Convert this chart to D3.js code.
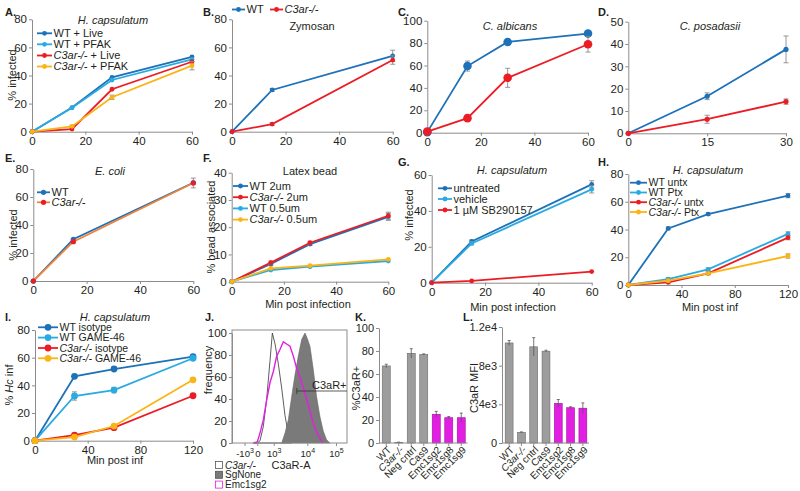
<!DOCTYPE html>
<html>
<head>
<meta charset="utf-8">
<script src="https://cdn.jsdelivr.net/npm/d3@7"></script>
<style>
body { margin: 0; background: #fff; }
svg text { font-family: "Liberation Sans", Arial, Helvetica, sans-serif; fill: #231f20; }
</style>
</head>
<body>
<svg id="fig" width="800" height="491"></svg>
<script>
// Colours used across panels
var C_WT = "#1d71b8", C_WT2 = "#29abe2", C_KO = "#ec1c24", C_KO2 = "#fbb416";
var C_BAR = "#9d9d9d", C_MAG = "#e21ee2";

// ---- A. H. capsulatum, live vs PFAK
var timesA = [0, 15, 30, 60];
var aWtLive = [0, 17.2, 38.7, 53.3];
var aWtPfak = [0, 17, 36.8, 51.5];
var aKoLive = [0, 1.9, 30.2, 49.8];
var aKoPfak = [0, 3.8, 24.5, 47];
var aErrKoPfak = [0, 0.8, 1.5, 3];
var aNames = ["WT + Live", "WT + PFAK", "C3ar-/- + Live", "C3ar-/- + PFAK"];

// ---- B. Zymosan
var timesB = [0, 15, 60];
var bWt = [0, 29.7, 54];
var bKo = [0, 5.4, 51];
var bErrWt = [0, 1, 4];
var bErrKo = [0, 1, 3];
var bNames = ["WT", "C3ar-/-"];

// ---- C. C. albicans
var timesC = [0, 15, 30, 60];
var cWt = [0.5, 59.5, 81, 88.5];
var cKo = [1, 13, 49, 79];
var cErrWt = [0, 4.5, 1.5, 2];
var cErrKo = [0, 1.5, 8.5, 7];

// ---- D. C. posadasii
var timesD = [0, 15, 30];
var dWt = [0, 16.6, 37.6];
var dKo = [0, 6.3, 14.2];
var dErrWt = [0, 1.5, 6];
var dErrKo = [0, 1.8, 1.2];

// ---- E. E. coli
var timesE = [0, 15, 60];
var eWt = [0, 29.8, 70.2];
var eKo = [0, 28.1, 70];
var eErr = [0, 1, 3.5];
var eNames = ["WT", "C3ar-/-"];

// ---- F. Latex beads
var timesF = [0, 15, 30, 60];
var fWt2 = [0, 6.5, 13.8, 23.8];
var fKo2 = [0, 7, 14.3, 24.2];
var fWt05 = [0, 4.3, 5.5, 7.6];
var fKo05 = [0, 4.9, 5.9, 8.2];
var fErr2 = [0, 0.6, 0.5, 1.3];
var fNames = ["WT 2um", "C3ar-/- 2um", "WT 0.5um", "C3ar-/- 0.5um"];

// ---- G. SB290157
var timesG = [0, 15, 60];
var gUntreated = [0, 23, 54.8];
var gVehicle = [0, 21.9, 52];
var gSb = [0, 1, 6.2];
var gErr = [0, 0.8, 2];
var gNames = ["untreated", "vehicle", "1 \u00b5M SB290157"];

// ---- H. Pertussis toxin
var timesH = [0, 30, 60, 120];
var hWtUntx = [0, 40.8, 51.1, 64.4];
var hWtPtx = [0, 4.3, 11.3, 36.8];
var hKoUntx = [0, 1.9, 8.4, 34.1];
var hKoPtx = [0, 3.1, 8.4, 20.9];
var hErr = [0, 1, 1, 1.5];
var hNames = ["WT untx", "WT Ptx", "C3ar-/- untx", "C3ar-/- Ptx"];

// ---- I. GAME-46
var timesI = [0, 30, 60, 120];
var iWtIso = [0, 46.5, 51.8, 60.7];
var iWtGame = [0, 32.3, 36.6, 59.6];
var iKoIso = [0, 4.1, 9.4, 32.5];
var iKoGame = [0, 2.6, 10.6, 44];
var iErrWtGame = [0, 3, 2, 1];
var iNames = ["WT isotype", "WT GAME-46", "C3ar-/- isotype", "C3ar-/- GAME-46"];

// ---- J. flow histogram (C3aR-A value, frequency)
var jKoX = [-100, 0, 59, 167, 330, 578, 822, 1104, 1402, 1778, 2244, 2816, 3528];
var jKoY = [0, 0, 2, 15, 40, 75, 100, 90, 72, 50, 25, 8, 0];
var jNoneX = [1778, 2244, 2816, 3528, 4422, 5514, 6885, 8580, 10000, 12390, 16185, 21180, 27660, 36000, 46950, 61350];
var jNoneY = [0, 9, 21, 42, 62, 79, 94, 100, 95, 88, 67, 42, 24, 11, 3, 0];
var jEmcX = [-146, 0, 59, 167, 330, 578, 952, 1244, 1580, 1994, 2511, 3155, 3953, 4935, 6165, 7680, 9555, 12390, 16185, 21180, 27660, 36000];
var jEmcY = [0, 1, 9, 21, 39, 55, 65, 79, 85, 92, 90, 88, 79, 68, 60, 50, 40, 29, 18, 10, 4, 0];
var jTickVals = [-1000, 0, 1000, 10000, 100000];
var jTickBase = ["-10", "0", "10", "10", "10"];
var jTickSup = ["3", "", "3", "4", "5"];
var jNames = ["C3ar-/-", "SgNone", "Emc1sg2"];

// ---- K / L. bar charts
var klCats = ["WT", "C3ar-/-", "Neg cntrl", "Cas9", "Emc1sg2", "Emc1sg8", "Emc1sg9"];
var kPct = [67, 0.6, 78, 77, 25, 22, 22];
var kErr = [1.5, 0.2, 4, 0.5, 2.5, 1, 4];
var lMfi = [10350, 1100, 9950, 9500, 4100, 3650, 3600];
var lErr = [250, 50, 950, 100, 400, 100, 550];
var klColors = [C_BAR, C_BAR, C_BAR, C_BAR, C_MAG, C_MAG, C_MAG];

var svg = d3.select("#fig");

function richText(sel, str) {
    str.split(/(C3ar-\/-|Hc)/).forEach(function(p) {
        if (!p) return;
        sel.append("tspan")
            .attr("font-style", (p === "C3ar-/-" || p === "Hc") ? "italic" : null)
            .text(p);
    });
    return sel;
}

function styleAxis(ax, fs) {
    ax.selectAll(".domain, .tick line").attr("stroke", "#8c8c8c").attr("stroke-width", 1);
    ax.selectAll(".tick text").attr("font-size", fs || 11.5).attr("fill", "#231f20")
        .style("font-family", "'Liberation Sans', Arial, sans-serif");
    return ax;
}

function panelLabel(txt, x, y) {
    svg.append("text").attr("x", x).attr("y", y).attr("font-size", 11)
        .attr("font-weight", "bold").text(txt);
}

function linePanel(cfg) {
    var x = d3.scaleLinear().domain(cfg.xDom).range(cfg.xRange);
    var y = d3.scaleLinear().domain(cfg.yDom).range(cfg.yRange);
    var g = svg.append("g");

    styleAxis(g.append("g").attr("transform", "translate(" + cfg.xRange[0] + ",0)")
        .call(d3.axisLeft(y).tickValues(cfg.yTicks).tickSize(3).tickSizeOuter(0).tickPadding(2)));
    styleAxis(g.append("g").attr("transform", "translate(0," + cfg.yRange[0] + ")")
        .call(d3.axisBottom(x).tickValues(cfg.xTicks).tickSize(3).tickSizeOuter(0).tickPadding(2)));

    var line = d3.line().x(function(d) { return x(d.t); }).y(function(d) { return y(d.v); });

    cfg.series.forEach(function(s) {
        var pts = cfg.xs.map(function(t, i) {
            return { t: t, v: s.vals[i], e: s.err ? s.err[i] : 0 };
        });
        g.append("path").datum(pts).attr("d", line).attr("fill", "none")
            .attr("stroke", s.line || s.color).attr("stroke-width", 1.8);
        var eb = g.append("g").attr("stroke", "#8a8a8a").attr("stroke-width", 0.9);
        pts.filter(function(d) { return d.e > 0; }).forEach(function(d) {
            var cx = x(d.t), y1 = y(d.v + d.e), y2 = y(d.v - d.e);
            eb.append("line").attr("x1", cx).attr("x2", cx).attr("y1", y1).attr("y2", y2);
            eb.append("line").attr("x1", cx - 2.5).attr("x2", cx + 2.5).attr("y1", y1).attr("y2", y1);
            eb.append("line").attr("x1", cx - 2.5).attr("x2", cx + 2.5).attr("y1", y2).attr("y2", y2);
        });
        g.selectAll(null).data(pts).enter().append("circle")
            .attr("cx", function(d) { return x(d.t); })
            .attr("cy", function(d) { return y(d.v); })
            .attr("r", cfg.r).attr("fill", s.color);
    });

    if (cfg.title) {
        g.append("text").attr("x", cfg.title.x).attr("y", cfg.title.y)
            .attr("text-anchor", "middle").attr("font-size", 11)
            .attr("font-style", cfg.title.italic ? "italic" : null).text(cfg.title.text);
    }
    if (cfg.legend) {
        var L = cfg.legend;
        cfg.series.forEach(function(s, i) {
            var ly = L.ys[i], lx = L.xs ? L.xs[i] : L.x0;
            g.append("line").attr("x1", lx).attr("x2", lx + L.w).attr("y1", ly).attr("y2", ly)
                .attr("stroke", s.line || s.color).attr("stroke-width", 1.8);
            g.append("circle").attr("cx", lx + L.w / 2).attr("cy", ly).attr("r", cfg.r).attr("fill", s.color);
            richText(g.append("text").attr("x", lx + L.w + 1.5).attr("y", ly).attr("dy", "0.35em")
                .attr("font-size", L.fs || 11), s.name);
        });
    }
    if (cfg.yLabel) {
        richText(g.append("text").attr("transform", "translate(" + cfg.yLabel.x + "," + cfg.yLabel.y + ") rotate(-90)")
            .attr("text-anchor", "middle").attr("dy", "0.35em").attr("font-size", 11), cfg.yLabel.text);
    }
    if (cfg.xLabel) {
        g.append("text").attr("x", cfg.xLabel.x).attr("y", cfg.xLabel.y).attr("text-anchor", "middle")
            .attr("dy", "0.35em").attr("font-size", 11).text(cfg.xLabel.text);
    }
}

// ---------------- Row 1
panelLabel("A.", 5, 16);
linePanel({
    xs: timesA, xDom: [0, 60], xRange: [32, 192], xTicks: [0, 20, 40, 60],
    yDom: [0, 80], yRange: [131.7, 19.3], yTicks: [0, 20, 40, 60, 80], r: 2.4,
    series: [
        { name: aNames[0], vals: aWtLive, color: C_WT },
        { name: aNames[1], vals: aWtPfak, color: C_WT2 },
        { name: aNames[2], vals: aKoLive, color: C_KO },
        { name: aNames[3], vals: aKoPfak, color: C_KO2, err: aErrKoPfak }
    ],
    title: { text: "H. capsulatum", italic: true, x: 113, y: 24 },
    legend: { x0: 37, w: 15, ys: [33.3, 44.3, 55.5, 66.5] },
    yLabel: { text: "% infected", x: 12.5, y: 75 }
});

panelLabel("B.", 203, 16);
linePanel({
    xs: timesB, xDom: [0, 60], xRange: [232, 392.7], xTicks: [0, 20, 40, 60],
    yDom: [0, 80], yRange: [131.7, 19.3], yTicks: [0, 20, 40, 60, 80], r: 2.4,
    series: [
        { name: bNames[0], vals: bWt, color: C_WT, err: bErrWt },
        { name: bNames[1], vals: bKo, color: C_KO, err: bErrKo }
    ],
    title: { text: "Zymosan", italic: false, x: 312, y: 30 },
    legend: { xs: [232, 270], w: 13, ys: [9.5, 9.5] }
});

panelLabel("C.", 398, 16);
linePanel({
    xs: timesC, xDom: [0, 60], xRange: [427.3, 588], xTicks: [0, 20, 40, 60],
    yDom: [0, 100], yRange: [132.7, 20.7], yTicks: [0, 20, 40, 60, 80, 100], r: 4.3,
    series: [
        { name: "WT", vals: cWt, color: C_WT, err: cErrWt },
        { name: "C3ar-/-", vals: cKo, color: C_KO, err: cErrKo }
    ],
    title: { text: "C. albicans", italic: true, x: 510, y: 30 }
});

panelLabel("D.", 598, 16);
linePanel({
    xs: timesD, xDom: [0, 30], xRange: [628.3, 786], xTicks: [0, 15, 30],
    yDom: [0, 50], yRange: [133.3, 21.7], yTicks: [0, 10, 20, 30, 40, 50], r: 2.6,
    series: [
        { name: "WT", vals: dWt, color: C_WT, err: dErrWt },
        { name: "C3ar-/-", vals: dKo, color: C_KO, err: dErrKo }
    ],
    title: { text: "C. posadasii", italic: true, x: 710, y: 30 }
});

// ---------------- Row 2
panelLabel("E.", 5, 162);
linePanel({
    xs: timesE, xDom: [0, 60], xRange: [33.3, 193.3], xTicks: [0, 20, 40, 60],
    yDom: [0, 80], yRange: [281, 169], yTicks: [0, 20, 40, 60, 80], r: 2.6,
    series: [
        { name: eNames[0], vals: eWt, color: C_WT },
        { name: eNames[1], vals: eKo, color: C_KO, line: "#f3833a", err: eErr }
    ],
    title: { text: "E. coli", italic: true, x: 110, y: 175 },
    legend: { x0: 37, w: 13, ys: [192.3, 202.3] },
    yLabel: { text: "% infected", x: 13, y: 235 }
});

panelLabel("F.", 203, 162);
linePanel({
    xs: timesF, xDom: [0, 60], xRange: [231.7, 388.3], xTicks: [0, 20, 40, 60],
    yDom: [0, 40], yRange: [281.7, 172.7], yTicks: [0, 10, 20, 30, 40], r: 2.4,
    series: [
        { name: fNames[0], vals: fWt2, color: C_WT, err: fErr2 },
        { name: fNames[1], vals: fKo2, color: C_KO, err: fErr2 },
        { name: fNames[2], vals: fWt05, color: C_WT2 },
        { name: fNames[3], vals: fKo05, color: C_KO2 }
    ],
    title: { text: "Latex bead", italic: false, x: 310, y: 175 },
    legend: { x0: 233, w: 15, ys: [186, 197.2, 208.4, 219.6] },
    yLabel: { text: "% bead associated", x: 211, y: 227 },
    xLabel: { text: "Min post infection", x: 308, y: 304 }
});

panelLabel("G.", 398, 166);
linePanel({
    xs: timesG, xDom: [0, 60], xRange: [431.7, 591.7], xTicks: [0, 20, 40, 60],
    yDom: [0, 60], yRange: [282.7, 175], yTicks: [0, 20, 40, 60], r: 2.4,
    series: [
        { name: gNames[0], vals: gUntreated, color: C_WT, err: gErr },
        { name: gNames[1], vals: gVehicle, color: C_WT2, err: gErr },
        { name: gNames[2], vals: gSb, color: C_KO }
    ],
    title: { text: "H. capsulatum", italic: true, x: 512, y: 174 },
    legend: { x0: 438, w: 14, ys: [188.3, 199, 210] },
    yLabel: { text: "% infected", x: 409, y: 215 },
    xLabel: { text: "Min post infection", x: 513, y: 307 }
});

panelLabel("H.", 598, 166);
linePanel({
    xs: timesH, xDom: [0, 120], xRange: [628.3, 788], xTicks: [0, 40, 80, 120],
    yDom: [0, 80], yRange: [285, 174], yTicks: [0, 20, 40, 60, 80], r: 2.4,
    series: [
        { name: hNames[0], vals: hWtUntx, color: C_WT, err: hErr },
        { name: hNames[1], vals: hWtPtx, color: C_WT2, err: hErr },
        { name: hNames[2], vals: hKoUntx, color: C_KO, err: hErr },
        { name: hNames[3], vals: hKoPtx, color: C_KO2, err: hErr }
    ],
    title: { text: "H. capsulatum", italic: true, x: 708, y: 174 },
    legend: { x0: 630, w: 17, ys: [182.7, 192.5, 202.2, 212], fs: 10.5 },
    xLabel: { text: "Min post inf", x: 710, y: 307 }
});

// ---------------- Row 3
panelLabel("I.", 5, 321);
linePanel({
    xs: timesI, xDom: [0, 120], xRange: [35, 193], xTicks: [0, 40, 80, 120],
    yDom: [0, 80], yRange: [440.7, 330], yTicks: [0, 20, 40, 60, 80], r: 3.4,
    series: [
        { name: iNames[0], vals: iWtIso, color: C_WT },
        { name: iNames[1], vals: iWtGame, color: C_WT2, err: iErrWtGame },
        { name: iNames[2], vals: iKoIso, color: C_KO },
        { name: iNames[3], vals: iKoGame, color: C_KO2 }
    ],
    title: { text: "H. capsulatum", italic: true, x: 115, y: 321 },
    legend: { x0: 38, w: 20, ys: [327.3, 337.6, 348, 358.3], fs: 10.5 },
    yLabel: { text: "% Hc inf", x: 9, y: 385 },
    xLabel: { text: "Min post inf", x: 115, y: 460 }
});

// J. flow histogram
function drawFlow() {
    var g = svg.append("g");
    var box = { l: 232, r: 347, t: 330, b: 443 };
    var tf = function(v) { return Math.sign(v) * Math.log10(1 + Math.abs(v) / 150); };
    var x = d3.scaleLinear().domain(jTickVals.map(tf)).range([244.5, 257.3, 273.7, 307.3, 336]);
    var y = d3.scaleLinear().domain([0, 100]).range([443, 333]);
    var px = function(v) { return x(tf(v)); };

    var pts = function(xs, ys) { return xs.map(function(v, i) { return [v, ys[i]]; }); };
    var area = d3.area().x(function(d) { return px(d[0]); }).y0(y(0)).y1(function(d) { return y(d[1]); });
    var line = d3.line().x(function(d) { return px(d[0]); }).y(function(d) { return y(d[1]); });

    g.append("path").datum(pts(jKoX, jKoY)).attr("d", area).attr("fill", "#fff")
        .attr("stroke", "#333").attr("stroke-width", 0.8);
    g.append("path").datum(pts(jNoneX, jNoneY)).attr("d", area).attr("fill", "#7a7a7a")
        .attr("stroke", "#666").attr("stroke-width", 0.6);
    g.append("path").datum(pts(jEmcX, jEmcY)).attr("d", line).attr("fill", "none")
        .attr("stroke", C_MAG).attr("stroke-width", 1.4);

    g.append("rect").attr("x", box.l).attr("y", box.t).attr("width", box.r - box.l)
        .attr("height", box.b - box.t).attr("fill", "none").attr("stroke", "#8c8c8c");

    styleAxis(g.append("g").attr("transform", "translate(" + box.l + ",0)")
        .call(d3.axisLeft(y).tickValues([0, 20, 40, 60, 80, 100]).tickSize(3).tickSizeOuter(0).tickPadding(2)));
    var xa = styleAxis(g.append("g").attr("transform", "translate(0," + box.b + ")")
        .call(d3.axisBottom(x).tickValues(jTickVals.map(tf)).tickSize(3).tickSizeOuter(0).tickPadding(4)), 9.5);
    xa.select(".domain").remove();
    xa.selectAll(".tick text").each(function(d, i) {
        var t = d3.select(this).text("");
        t.append("tspan").text(jTickBase[i]);
        if (jTickSup[i]) t.append("tspan").attr("dy", -4).attr("font-size", 7).text(jTickSup[i]);
    });

    // gate
    var gy = 391, gx = px(5000);
    g.append("line").attr("x1", gx).attr("x2", box.r).attr("y1", gy).attr("y2", gy)
        .attr("stroke", "#333").attr("stroke-width", 0.8);
    g.append("line").attr("x1", gx).attr("x2", gx).attr("y1", gy - 3).attr("y2", gy + 3)
        .attr("stroke", "#333").attr("stroke-width", 0.8);
    g.append("text").attr("x", 312).attr("y", 388.5).attr("font-size", 11).text("C3aR+");

    g.append("text").attr("x", 291).attr("y", 469).attr("text-anchor", "middle")
        .attr("font-size", 11).text("C3aR-A");
    g.append("text").attr("transform", "translate(208,370) rotate(-90)").attr("text-anchor", "middle")
        .attr("dy", "0.35em").attr("font-size", 11).text("frequency");

    var sw = [{ f: "#fff", s: "#555" }, { f: "#7a7a7a", s: "#555" }, { f: "#fff", s: C_MAG }];
    jNames.forEach(function(n, i) {
        var ly = 465 + i * 9.8;
        g.append("rect").attr("x", 215.5).attr("y", ly - 3.5).attr("width", 7).attr("height", 7)
            .attr("fill", sw[i].f).attr("stroke", sw[i].s).attr("stroke-width", 0.8);
        richText(g.append("text").attr("x", 225).attr("y", ly).attr("dy", "0.35em").attr("font-size", 10), n);
    });
}
panelLabel("J.", 205, 321);
drawFlow();

function barPanel(cfg) {
    var g = svg.append("g");
    var x = d3.scaleBand().domain(klCats).range(cfg.xRange).paddingInner(0.36).paddingOuter(0.18);
    var y = d3.scaleLinear().domain(cfg.yDom).range([443, cfg.yTop]);

    g.selectAll(null).data(cfg.vals).enter().append("rect")
        .attr("x", function(d, i) { return x(klCats[i]); })
        .attr("y", function(d) { return y(d); })
        .attr("width", x.bandwidth())
        .attr("height", function(d) { return 443 - y(d); })
        .attr("fill", function(d, i) { return klColors[i]; })
        .attr("stroke", function(d, i) { return i >= 4 ? "#a010a0" : "#6a6a6a"; })
        .attr("stroke-width", 0.6);

    var eb = g.append("g").attr("stroke", "#555").attr("stroke-width", 0.8);
    cfg.vals.forEach(function(v, i) {
        var cx = x(klCats[i]) + x.bandwidth() / 2, y1 = y(v + cfg.err[i]), y2 = y(v - cfg.err[i]);
        eb.append("line").attr("x1", cx).attr("x2", cx).attr("y1", y1).attr("y2", y2);
        eb.append("line").attr("x1", cx - 1.5).attr("x2", cx + 1.5).attr("y1", y1).attr("y2", y1);
    });

    styleAxis(g.append("g").attr("transform", "translate(" + cfg.axisX + ",0)")
        .call(d3.axisLeft(y).tickValues(cfg.yTicks).tickFormat(function(d, i) { return cfg.yTickLabels[i]; })
            .tickSize(3).tickSizeOuter(0).tickPadding(2)), 11);
    var xa = styleAxis(g.append("g").attr("transform", "translate(0,443)")
        .call(d3.axisBottom(x).tickSize(3).tickSizeOuter(0)));
    xa.select(".domain").attr("d", "M" + cfg.axisX + ",0H" + cfg.xRange[1]);
    xa.selectAll(".tick text").remove();

    klCats.forEach(function(c) {
        var cx = x(c) + x.bandwidth() / 2 + 3;
        richText(g.append("text").attr("transform", "translate(" + cx + ",448) rotate(-45)")
            .attr("text-anchor", "end").attr("dy", "0.35em").attr("font-size", 10), c);
    });

    g.append("text").attr("transform", "translate(" + cfg.yLabelX + ",388) rotate(-90)")
        .attr("text-anchor", "middle").attr("dy", "0.35em").attr("font-size", 11).text(cfg.yLabel);
}

panelLabel("K.", 355, 321);
barPanel({
    vals: kPct, err: kErr, xRange: [380, 467.5], axisX: 379, yDom: [0, 100], yTop: 328,
    yTicks: [0, 20, 40, 60, 80, 100], yTickLabels: ["0", "20", "40", "60", "80", "100"],
    yLabel: "%C3aR+", yLabelX: 356
});

panelLabel("L.", 463, 321);
barPanel({
    vals: lMfi, err: lErr, xRange: [503, 589], axisX: 502, yDom: [0, 12000], yTop: 327,
    yTicks: [0, 4000, 8000, 12000], yTickLabels: ["0", "4e3", "8e3", "1.2e4"],
    yLabel: "C3aR MFI", yLabelX: 474
});
</script>
</body>
</html>
